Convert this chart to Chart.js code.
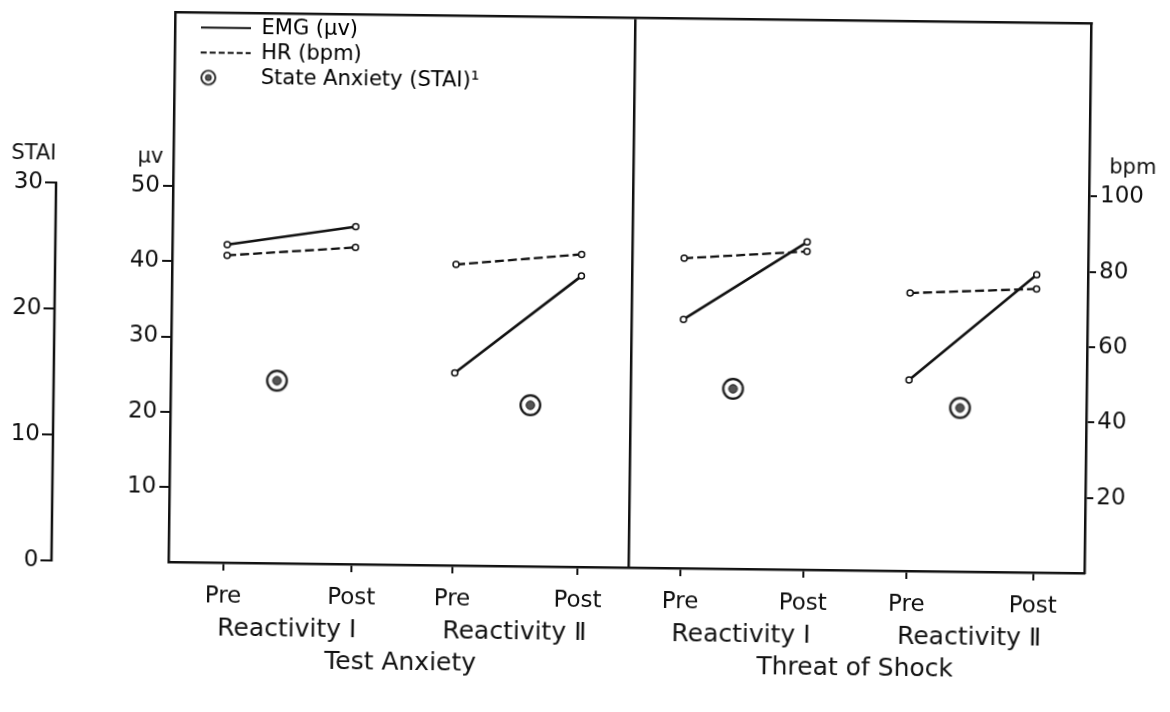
<!DOCTYPE html>
<html>
<head>
<meta charset="utf-8">
<script src="https://cdn.jsdelivr.net/npm/chart.js@4.4.0/dist/chart.umd.min.js"></script>
<style>
  html, body { margin: 0; background: #fff; }
  /* the scanned figure sits slightly tilted */
  #chart { display: block; transform: rotate(0.7deg); }
</style>
</head>
<body>
<canvas id="chart" width="1170" height="712"></canvas>
<script>
const conditions = ['Test Anxiety', 'Threat of Shock'];
const phases = ['Reactivity Ⅰ', 'Reactivity Ⅱ', 'Reactivity Ⅰ', 'Reactivity Ⅱ'];
const timeLabels = ['Pre', 'Post'];
const axisTitles = ['STAI', 'µv', 'bpm'];

// where Pre / Post / STAI sit along the x axis (0-100 across both panels)
const preX = [6.0, 31.0, 55.9, 80.6];
const postX = [20.0, 44.7, 69.3, 94.4];
const staiX = [11.6, 39.3, 61.4, 86.2];
const panelSplit = 50.2;

const emgPre = [42.3, 25.6, 33.1, 25.4];
const emgPost = [44.9, 38.7, 43.6, 39.6];
const hrPre = [81.6, 79.9, 82.3, 73.8];
const hrPost = [84.1, 83.0, 84.5, 75.3];
const stai = [14.5, 12.8, 14.3, 13.0];

const staiTicks = [0, 10, 20, 30];
const emgTicks = [10, 20, 30, 40, 50];
const hrTicks = [20, 40, 60, 80, 100];

const ink = '#111';
const family = "'DejaVu Sans', sans-serif";
Chart.defaults.font.family = family;
Chart.defaults.color = ink;

function bullseye(w, h, cx, r, lw, dot) {
  const c = document.createElement('canvas');
  c.width = w;
  c.height = h;
  const g = c.getContext('2d');
  const cy = h / 2;
  g.strokeStyle = ink;
  g.lineWidth = lw;
  g.beginPath();
  g.arc(cx, cy, r, 0, Math.PI * 2);
  g.fillStyle = '#fff';
  g.fill();
  g.stroke();
  g.beginPath();
  g.arc(cx, cy, dot, 0, Math.PI * 2);
  g.fillStyle = '#555';
  g.fill();
  g.lineWidth = 1;
  g.stroke();
  return c;
}
const ring = bullseye(26, 26, 13, 9.8, 2.2, 4.2);
// legend version: bullseye sits at the left of the 50px symbol slot
const ringSmall = bullseye(50, 20, 8, 7, 1.7, 3);

function pairs(pre, post) {
  const out = [];
  pre.forEach((v, i) => {
    out.push({x: preX[i], y: v}, {x: postX[i], y: post[i]}, {x: postX[i], y: null});
  });
  return out;
}

const tickX = preX.flatMap((p, i) => [p, postX[i]]);
const tickText = tickX.map((v, i) => timeLabels[i % 2]);
const phaseX = preX.map((p, i) => (p + postX[i]) / 2);
const groupX = [(phaseX[0] + phaseX[1]) / 2, (phaseX[2] + phaseX[3]) / 2];

const setTicks = list => scale => { scale.ticks = list.map(v => ({value: v})); };

// STAI axis line only runs from 0 to 30
const staiAxisLine = {
  id: 'staiAxisLine',
  afterDraw(chart) {
    const s = chart.scales.stai;
    const ctx = chart.ctx;
    ctx.save();
    ctx.strokeStyle = ink;
    ctx.lineWidth = 2.5;
    ctx.beginPath();
    ctx.moveTo(s.right - 1, s.getPixelForValue(0) + 1);
    ctx.lineTo(s.right - 1, s.getPixelForValue(staiTicks[staiTicks.length - 1]) - 1);
    ctx.stroke();
    ctx.restore();
  }
};

// unit names sit on top of each axis, not along it
const axisNames = {
  id: 'axisNames',
  afterDraw(chart) {
    const {ctx, scales} = chart;
    ctx.save();
    ctx.fillStyle = ink;
    ctx.font = '21px ' + family;
    ctx.textBaseline = 'middle';
    ctx.textAlign = 'right';
    ctx.fillText(axisTitles[0], scales.stai.right - 1, scales.stai.getPixelForValue(32.3));
    ctx.fillText(axisTitles[1], scales.emg.right - 10, scales.emg.getPixelForValue(53.8));
    ctx.textAlign = 'left';
    ctx.fillText(axisTitles[2], scales.hr.left + 20, scales.hr.getPixelForValue(107.6));
    ctx.restore();
  }
};

const legendInset = {
  id: 'legendInset',
  afterLayout(chart) {
    chart.legend.left = chart.chartArea.left + 22;
    chart.legend.top = chart.chartArea.top + 1;
  }
};

new Chart(document.getElementById('chart'), {
  type: 'line',
  data: {
    datasets: [{
      label: 'EMG (µv)',
      data: pairs(emgPre, emgPost),
      yAxisID: 'emg',
      borderColor: ink,
      borderWidth: 2.6,
      pointRadius: 3,
      pointBackgroundColor: '#fff',
      pointBorderColor: ink,
      pointBorderWidth: 1.5,
      spanGaps: false,
      tension: 0
    },
    {
      label: 'HR (bpm)',
      data: pairs(hrPre, hrPost),
      yAxisID: 'hr',
      borderColor: ink,
      borderWidth: 2.3,
      borderDash: [9, 4],
      pointRadius: 3,
      pointBackgroundColor: '#fff',
      pointBorderColor: ink,
      pointBorderWidth: 1.5,
      spanGaps: false,
      tension: 0
    },
    {
      label: 'State Anxiety (STAI)¹',
      data: stai.map((v, i) => ({x: staiX[i], y: v})),
      yAxisID: 'stai',
      showLine: false,
      pointStyle: ring,
      pointRadius: 10
    }]
  },
  options: {
    responsive: false,
    animation: false,
    layout: {
      padding: {top: 9, left: 0, right: 0, bottom: 0}
    },
    plugins: {
      tooltip: {enabled: false},
      legend: {
        position: 'chartArea',
        align: 'start',
        labels: {
          usePointStyle: true,
          pointStyleWidth: 50,
          padding: 4,
          color: ink,
          font: {size: 21},
          generateLabels: () => [
            {text: 'EMG (µv)', pointStyle: 'line', lineWidth: 2, strokeStyle: ink, fillStyle: ink, lineDash: []},
            {text: 'HR (bpm)', pointStyle: 'line', lineWidth: 2, strokeStyle: ink, fillStyle: ink, lineDash: [6, 3]},
            {text: 'State Anxiety (STAI)¹', pointStyle: ringSmall, lineWidth: 0, strokeStyle: ink, fillStyle: ink}
          ]
        }
      }
    },
    scales: {
      x: {
        type: 'linear',
        position: 'bottom',
        min: 0,
        max: 100,
        weight: 0,
        afterBuildTicks: setTicks(tickX),
        afterFit: s => { s.height = 45; },
        ticks: {
          autoSkip: false,
          maxRotation: 0,
          padding: 12,
          font: {size: 23},
          callback: (v, i) => tickText[i]
        },
        grid: {drawOnChartArea: false, tickLength: 8, color: ink, lineWidth: 2},
        border: {display: true, color: ink, width: 2.5}
      },
      phase: {
        type: 'linear',
        position: 'bottom',
        min: 0,
        max: 100,
        weight: 1,
        afterBuildTicks: setTicks(phaseX),
        afterFit: s => { s.height = 36; },
        ticks: {
          autoSkip: false,
          maxRotation: 0,
          padding: 6,
          font: {size: 25},
          callback: (v, i) => phases[i]
        },
        grid: {display: false, drawTicks: false},
        border: {display: false}
      },
      group: {
        type: 'linear',
        position: 'bottom',
        min: 0,
        max: 100,
        weight: 2,
        afterBuildTicks: setTicks(groupX),
        afterFit: s => { s.height = 64; },
        ticks: {
          autoSkip: false,
          maxRotation: 0,
          padding: 2,
          font: {size: 25},
          callback: (v, i) => conditions[i]
        },
        grid: {display: false, drawTicks: false},
        border: {display: false}
      },
      frame: {
        type: 'linear',
        position: 'top',
        min: 0,
        max: 100,
        afterBuildTicks: setTicks([panelSplit]),
        afterFit: s => { s.height = 0; },
        ticks: {display: false},
        grid: {drawOnChartArea: true, drawTicks: false, color: ink, lineWidth: 2.5},
        border: {display: true, color: ink, width: 2.5}
      },
      emg: {
        type: 'linear',
        position: 'left',
        min: 0,
        max: 73.2,
        weight: 0,
        afterBuildTicks: setTicks(emgTicks),
        afterFit: s => { s.width = 116; },
        ticks: {padding: 3, font: {size: 23}},
        grid: {drawOnChartArea: false, tickLength: 10, lineWidth: 2, color: ink},
        border: {display: true, color: ink, width: 2.5}
      },
      stai: {
        type: 'linear',
        position: 'left',
        min: 0,
        max: 43.7,
        weight: 1,
        afterBuildTicks: setTicks(staiTicks),
        afterFit: s => { s.width = 55; },
        ticks: {padding: 2, font: {size: 23}},
        grid: {drawOnChartArea: false, tickLength: 12, lineWidth: 2, color: ink},
        border: {display: false}
      },
      hr: {
        type: 'linear',
        position: 'right',
        min: 0,
        max: 146.1,
        afterBuildTicks: setTicks(hrTicks),
        afterFit: s => { s.width = 83; },
        ticks: {padding: 3, font: {size: 23}},
        grid: {drawOnChartArea: false, tickLength: 8, lineWidth: 2, color: ink},
        border: {display: true, color: ink, width: 2.5}
      }
    }
  },
  plugins: [staiAxisLine, axisNames, legendInset]
});
</script>
</body>
</html>
